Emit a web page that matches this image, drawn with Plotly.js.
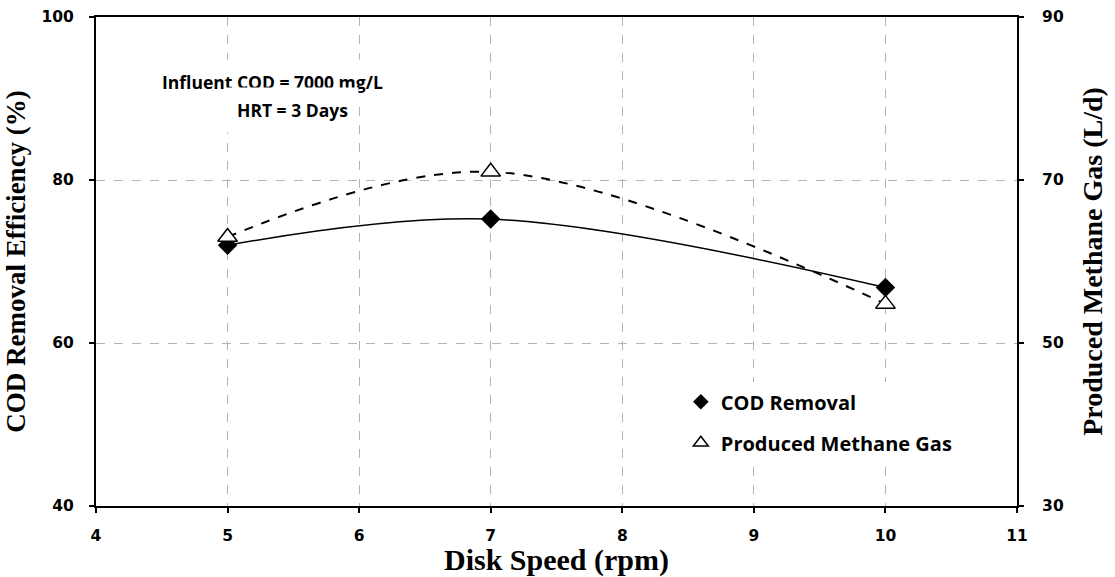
<!DOCTYPE html>
<html>
<head>
<meta charset="utf-8">
<script src="https://cdn.plot.ly/plotly-3.0.1.min.js"></script>
<style>html,body{margin:0;padding:0;background:#fff;}#chart{width:1115px;height:577px;}</style>
</head>
<body>
<div id="chart"></div>
<script>
const diskSpeed = [5, 7, 10];
const codRemoval = [72.0, 75.2, 66.8];
const methaneGas = [63.0, 71.0, 54.8];
const seriesNames = ["COD Removal", "Produced Methane Gas"];
const xTicks = [4, 5, 6, 7, 8, 9, 10, 11];
const yLeftTicks = [40, 60, 80, 100];
const yRightTicks = [30, 50, 70, 90];
const noteLines = ["Influent COD = 7000 mg/L", "HRT = 3 Days"];

const sans = "Open Sans, Noto Sans, sans-serif";
const tickFam = "DejaVu Sans, Verdana, sans-serif";
const serif = "Liberation Serif, Times New Roman, serif";
const bold = s => "<b>" + s + "</b>";

const traces = [
  {x: diskSpeed, y: codRemoval, type: "scatter", mode: "lines+markers", yaxis: "y",
   line: {color: "#000", width: 1.5, shape: "spline", smoothing: 1},
   marker: {symbol: "diamond", size: 15, color: "#000"}, showlegend: false, hoverinfo: "skip"},
  {x: diskSpeed, y: methaneGas, type: "scatter", mode: "lines+markers", yaxis: "y2",
   line: {color: "#000", width: 2, dash: "dash", shape: "spline", smoothing: 1},
   marker: {symbol: "triangle-up", size: 17, color: "#fff", line: {color: "#000", width: 1.5}},
   showlegend: false, hoverinfo: "skip"},
  {x: [null], y: [null], type: "scatter", mode: "markers", name: bold(seriesNames[0]), legendgroup: "a",
   marker: {symbol: "diamond", size: 12, color: "#000"}},
  {x: [null], y: [null], type: "scatter", mode: "markers", name: bold(seriesNames[1]), legendgroup: "b", yaxis: "y2",
   marker: {symbol: "triangle-up", size: 13, color: "#fff", line: {color: "#000", width: 1.5}}}
];

const tickFont = {family: tickFam, size: 15.5, color: "#000"};

const layout = {
  width: 1115, height: 577,
  margin: {l: 96, r: 98, t: 17, b: 71},
  paper_bgcolor: "#fff", plot_bgcolor: "#fff",
  font: {family: sans, color: "#000"},
  xaxis: {
    range: [4, 11], tickmode: "array", tickvals: xTicks, ticktext: xTicks.map(v => bold(v)),
    showline: true, linecolor: "#000", linewidth: 2, mirror: true,
    ticks: "outside", ticklen: 5, tickwidth: 2, tickcolor: "#000", ticklabelstandoff: 9,
    showgrid: true, gridcolor: "#b4b4b4", gridwidth: 1, griddash: "dash",
    zeroline: false, tickfont: tickFont,
    title: {text: bold("Disk Speed (rpm)"), font: {family: serif, size: 30, color: "#000"}, standoff: 3}
  },
  yaxis: {
    range: [40, 100], tickmode: "array", tickvals: yLeftTicks, ticktext: yLeftTicks.map(v => bold(v)),
    showline: true, linecolor: "#000", linewidth: 2,
    ticks: "outside", ticklen: 5, tickwidth: 2, tickcolor: "#000", ticklabelstandoff: 12,
    showgrid: true, gridcolor: "#b4b4b4", gridwidth: 1, griddash: "dash",
    zeroline: false, tickfont: tickFont,
    title: {text: bold("COD Removal Efficiency (%)"), font: {family: serif, size: 27, color: "#000"}, standoff: 8}
  },
  yaxis2: {
    overlaying: "y", side: "right",
    range: [30, 90], tickmode: "array", tickvals: yRightTicks, ticktext: yRightTicks.map(v => bold(v)),
    showline: true, linecolor: "#000", linewidth: 2,
    ticks: "outside", ticklen: 5, tickwidth: 2, tickcolor: "#000", ticklabelstandoff: 15,
    showgrid: false, zeroline: false, tickfont: tickFont,
    title: {text: bold("Produced Methane Gas (L/d)"), font: {family: serif, size: 28, color: "#000"}, standoff: 20}
  },
  showlegend: true,
  legend: {
    x: 0.635, y: 0.253, xanchor: "left", yanchor: "top",
    bgcolor: "#fff", borderwidth: 0,
    traceorder: "grouped", tracegroupgap: 12,
    font: {family: sans, size: 20, color: "#000"},
    itemwidth: 30
  },
  annotations: [
    {text: bold(noteLines[0]), xref: "x", yref: "y", x: 5.345, y: 92.0,
     showarrow: false, bgcolor: "#fff", borderpad: 10,
     font: {family: sans, size: 17.5, color: "#000"}},
    {text: bold(noteLines[1]), xref: "x", yref: "y", x: 5.49, y: 88.6,
     showarrow: false, bgcolor: "#fff", borderpad: 10,
     font: {family: sans, size: 17.5, color: "#000"}}
  ]
};

Plotly.newPlot("chart", traces, layout, {displayModeBar: false, staticPlot: true});
</script>
</body>
</html>
